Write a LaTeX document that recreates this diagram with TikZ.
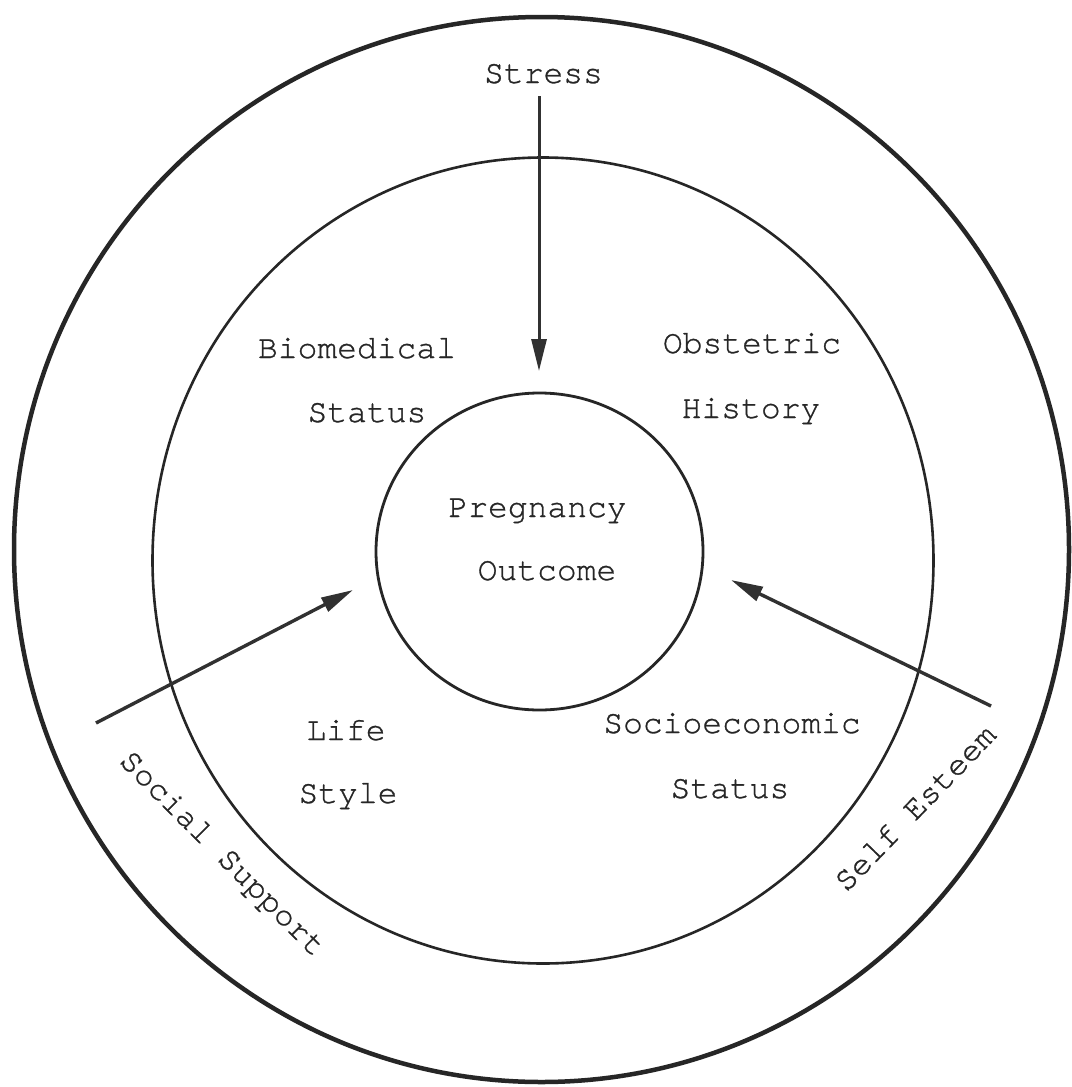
\documentclass[tikz,border=0pt]{standalone}
\usepackage{fontspec}
\setmainfont[FakeBold=0.9]{texgyrecursor-regular.otf}
\usetikzlibrary{arrows.meta,shapes.geometric}
\definecolor{ink}{HTML}{262626}
\begin{document}
\begin{tikzpicture}[x=1pt,y=-1pt,
  lbl/.style={font=\fontsize{33}{36}\selectfont, inner sep=0pt, text=ink},
  ring/.style={ellipse, draw=ink, inner sep=0pt, outer sep=0pt},
  arr/.style={draw=ink!95, line width=3.4pt, -{Triangle[length=32pt,width=15pt]}}]
\useasboundingbox[fill=white] (0,0) rectangle (1071,1087);
% circles
\node[ring, line width=4.5pt, minimum width=1055pt, minimum height=1065pt] (outer) at (541.5,549.5) {};
\node[ring, line width=2.6pt, minimum width=781pt, minimum height=806pt] (middle) at (543,560.5) {};
\node[ring, line width=2.8pt, minimum width=327pt, minimum height=317pt] (inner) at (539.5,551.5) {};
% labels
\node[lbl, anchor=base] (stress) at (543.5,83) {Stress};
\node[lbl, anchor=base] (bio1) at (357,358) {Biomedical};
\node[lbl, anchor=base] (bio2) at (367,422) {Status};
\node[lbl, anchor=base] (obs1) at (752,353) {Obstetric};
\node[lbl, anchor=base] (obs2) at (751,418) {History};
\node[lbl, anchor=base] (preg1) at (537.5,517) {Pregnancy};
\node[lbl, anchor=base] (preg2) at (547,580) {Outcome};
\node[lbl, anchor=base] (life1) at (346,740) {Life};
\node[lbl, anchor=base] (life2) at (348,803) {Style};
\node[lbl, anchor=base] (ses1) at (732,733) {Socioeconomic};
\node[lbl, anchor=base] (ses2) at (730,798) {Status};
\node[lbl, rotate=-45] (social) at (221,855) {Social Support};
\node[lbl, rotate=46] (self) at (915,808) {Self Esteem};
% arrow end points
\coordinate (sTail) at (539,96);
\coordinate (sTip) at (539,371);
\coordinate (ssTail) at (96,723);
\coordinate (ssTip) at (353,590);
\coordinate (seTail) at (991,706);
\coordinate (seTip) at (731,580);
\draw[arr, line width=3pt] (sTail) -- (sTip);
\draw[arr] (ssTail) -- (ssTip);
\draw[arr] (seTail) -- (seTip);
\end{tikzpicture}
\end{document}
